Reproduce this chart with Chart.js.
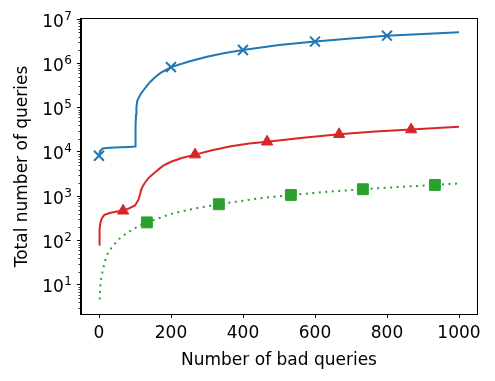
<!DOCTYPE html>
<html>
<head>
<meta charset="utf-8">
<script src="https://cdn.jsdelivr.net/npm/chart.js@4"></script>
<style>
  html, body { margin: 0; padding: 0; background: #fff; }
  #wrap { width: 495px; height: 381px; }
</style>
</head>
<body>
<div id="wrap"><canvas id="chart" width="495" height="381"></canvas></div>
<script>
// Series data (x = bad queries, y = total queries)
const blueX = [0, 3, 10, 30, 60, 85, 100, 101, 102, 103, 104, 106, 110, 117, 124, 133, 142, 155, 170, 185, 200, 250, 300, 350, 400, 500, 600, 700, 800, 900, 1000];
const blueY = [8200, 10500, 12000, 12500, 12800, 13000, 13200, 20000, 40000, 70000, 100000, 140000, 165000, 210000, 250000, 310000, 380000, 480000, 600000, 700000, 820000, 1100000, 1400000, 1700000, 2000000, 2600000, 3100000, 3650000, 4200000, 4600000, 5000000];

const redX = [0, 1, 2, 4, 8, 15, 30, 50, 67, 85, 100, 105, 110, 114, 117, 122, 129, 138, 147, 156, 168, 180, 200, 230, 267, 317, 367, 417, 467, 567, 667, 767, 867, 1000];
const redY = [80, 130, 180, 250, 320, 380, 420, 450, 470, 540, 620, 720, 850, 1100, 1400, 1700, 2100, 2600, 3000, 3500, 4200, 5000, 6000, 7300, 8700, 11000, 13500, 15500, 17000, 21000, 25000, 29000, 32000, 37000];

const greenX = [2, 3, 4, 6, 10, 14, 19, 26, 37, 52, 68, 82, 100, 115, 133, 200, 266, 333, 433, 533, 633, 733, 833, 933, 1000];
const greenY = [4.7, 7, 10, 14, 20, 28, 40, 56, 72, 102, 130, 157, 190, 225, 257, 400, 530, 660, 870, 1070, 1260, 1440, 1620, 1800, 1950];

// where the markers sit (every 200 queries, offset per series)
const blueMarks = [0, 200, 400, 600, 800];
const redMarks = [67, 267, 467, 667, 867];
const greenMarks = [133, 333, 533, 733, 933];

// axis ticks
const xTicks = [0, 200, 400, 600, 800, 1000];
const yTicks = [10, 100, 1000, 10000, 100000, 1000000, 10000000];
const yTickBase = '10';
const yTickExp = ['1', '2', '3', '4', '5', '6', '7'];

const Y_MIN = 2.2, Y_MAX = 1e7;
const FONT = '"DejaVu Sans", sans-serif';

function toPoints(xs, ys) {
  return xs.map((x, i) => ({ x: x, y: ys[i] }));
}

function markRadius(marks, r) {
  return ctx => (marks.includes(ctx.raw.x) ? r : 0);
}

// minor log ticks (2..9 in each decade) inside the axis range
function minorTicks() {
  const out = [];
  for (let e = 0; e < 7; e++) {
    for (let m = 2; m <= 9; m++) {
      const v = m * Math.pow(10, e);
      if (v >= Y_MIN && v <= Y_MAX) out.push(v);
    }
  }
  return out;
}

// box around the plot, short minor ticks and 10^n labels on the y axis
const framePlugin = {
  id: 'frame',
  afterDraw(chart) {
    const { ctx, chartArea: a } = chart;
    const ys = chart.scales.y;
    ctx.save();
    ctx.strokeStyle = '#000';
    ctx.lineWidth = 1;
    ctx.strokeRect(Math.round(a.left) - 0.5, Math.round(a.top) - 0.5,
      Math.round(a.right - a.left) + 1, Math.round(a.bottom - a.top) + 1);
    ctx.lineWidth = 0.8;
    ctx.beginPath();
    minorTicks().forEach(v => {
      const py = Math.round(ys.getPixelForValue(v)) + 0.5;
      ctx.moveTo(a.left - 2.5, py);
      ctx.lineTo(a.left, py);
    });
    ctx.stroke();

    // tick labels as 10 with a raised exponent
    ctx.fillStyle = '#000';
    ctx.textBaseline = 'alphabetic';
    ctx.textAlign = 'right';
    const right = a.left - 9;
    yTicks.forEach((v, i) => {
      const py = ys.getPixelForValue(v);
      ctx.font = '12px ' + FONT;
      const ew = ctx.measureText(yTickExp[i]).width;
      ctx.fillText(yTickExp[i], right, py + 0.5);
      ctx.font = '17px ' + FONT;
      ctx.fillText(yTickBase, right - ew - 0.5, py + 7.5);
    });
    ctx.restore();
  }
};

Chart.defaults.color = '#000';
Chart.defaults.font.family = FONT;
Chart.defaults.font.size = 17;

new Chart(document.getElementById('chart'), {
  type: 'line',
  data: {
    datasets: [
      {
        label: 'blue',
        data: toPoints(blueX, blueY),
        borderColor: '#1f77b4',
        backgroundColor: '#1f77b4',
        borderWidth: 2,
        pointStyle: 'crossRot',
        pointRadius: markRadius(blueMarks, 7),
        pointBorderWidth: 2,
        pointBorderColor: '#1f77b4',
        tension: 0
      },
      {
        label: 'red',
        data: toPoints(redX, redY),
        borderColor: '#d62728',
        backgroundColor: '#d62728',
        borderWidth: 2,
        pointStyle: 'triangle',
        pointRadius: markRadius(redMarks, 6.5),
        pointBorderWidth: 1,
        pointBorderColor: '#d62728',
        tension: 0
      },
      {
        label: 'green',
        data: toPoints(greenX, greenY),
        borderColor: '#2ca02c',
        backgroundColor: '#2ca02c',
        borderWidth: 2,
        borderDash: [2, 4.5],
        borderCapStyle: 'butt',
        pointStyle: 'rect',
        pointRadius: markRadius(greenMarks, 7.7),
        pointBorderWidth: 1,
        pointBorderColor: '#2ca02c',
        tension: 0
      }
    ]
  },
  options: {
    responsive: false,
    animation: false,
    events: [],
    layout: { padding: { left: 0, top: 19, right: 18, bottom: 0 } },
    plugins: {
      legend: { display: false },
      tooltip: { enabled: false }
    },
    scales: {
      x: {
        type: 'linear',
        min: -50,
        max: 1050,
        afterFit(scale) { scale.height = 67; },
        afterBuildTicks(scale) { scale.ticks = xTicks.map(v => ({ value: v })); },
        grid: { drawOnChartArea: false, tickLength: 4, color: '#000', tickWidth: 1 },
        border: { color: '#000', width: 1 },
        ticks: {
          padding: 5,
          maxRotation: 0,
          autoSkip: false,
          callback: value => String(value)
        },
        title: { display: true, text: 'Number of bad queries', padding: { top: 0, bottom: 10 } }
      },
      y: {
        type: 'logarithmic',
        min: Y_MIN,
        max: Y_MAX,
        afterFit(scale) { scale.width = 81; },
        afterBuildTicks(scale) { scale.ticks = yTicks.map(v => ({ value: v, major: true })); },
        grid: { drawOnChartArea: false, tickLength: 4, color: '#000', tickWidth: 1 },
        border: { color: '#000', width: 1 },
        // labels are drawn by the frame plugin (exponent needs a smaller font)
        ticks: { padding: 4, autoSkip: false, callback: () => '' },
        title: { display: true, text: 'Total number of queries', padding: { top: 12, bottom: 0 } }
      }
    }
  },
  plugins: [framePlugin]
});
</script>
</body>
</html>
